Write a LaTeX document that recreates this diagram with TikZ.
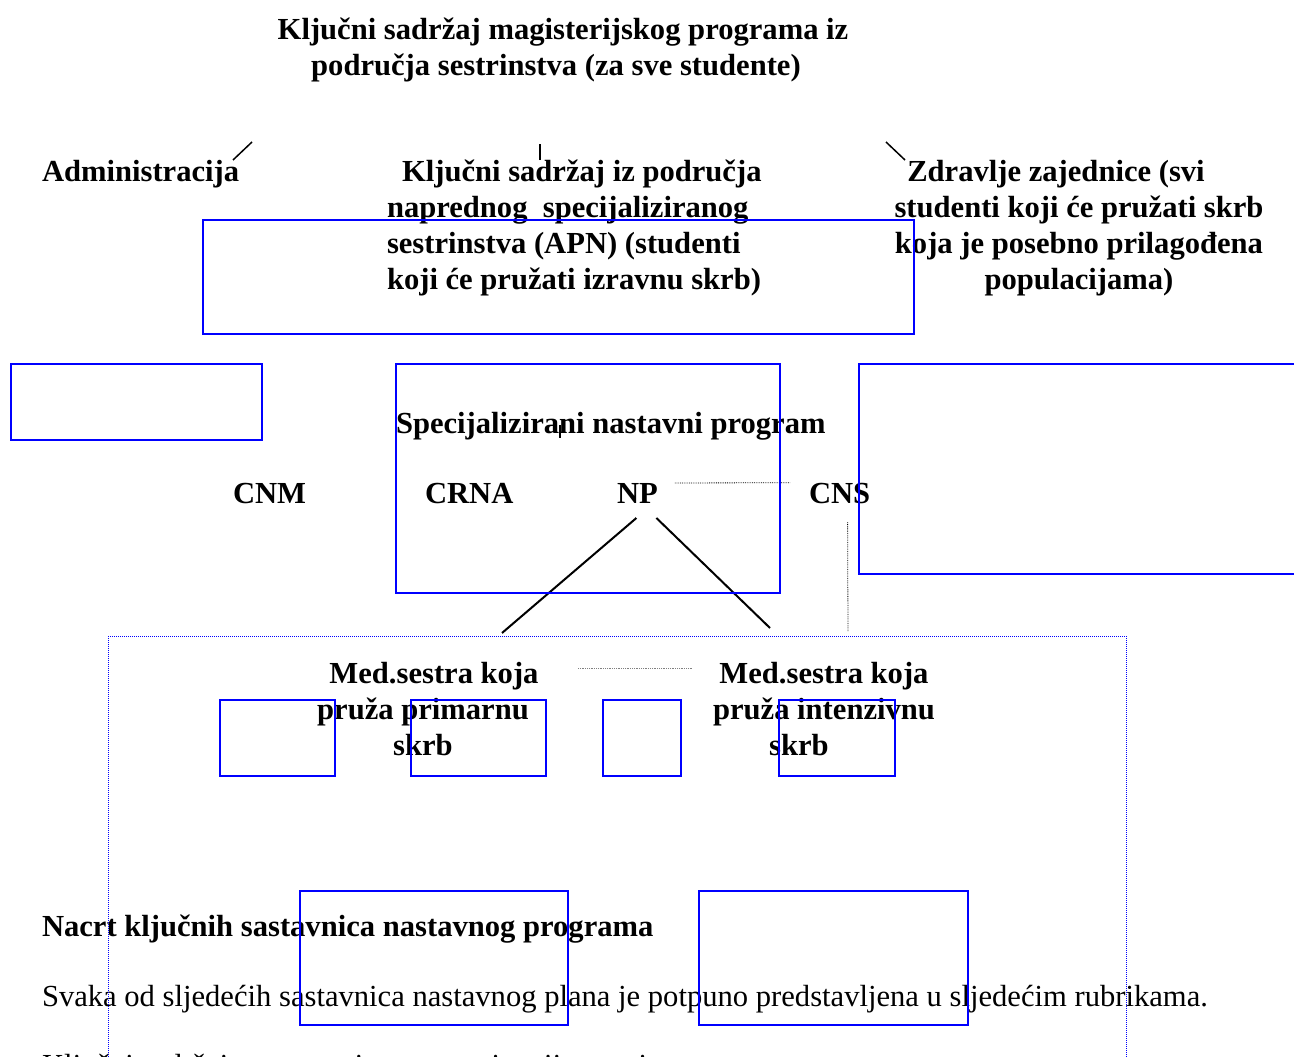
\documentclass[tikz,border=0pt]{standalone}
\usepackage{fontspec}
\setmainfont{Liberation Serif}
\usetikzlibrary{positioning}

\begin{document}
\begin{tikzpicture}[x=1pt,y=-1pt,
                    heading/.style={font=\fontsize{30.6}{36}\selectfont\bfseries,
                                    inner sep=0pt,outer sep=0pt
                                   },
                    bodytext/.style={font=\fontsize{30.6}{36}\selectfont,
                                     inner sep=0pt,outer sep=0pt
                                    },
                    bluebox/.style={draw=blue,line width=2.8pt},
                    framebox/.style={draw=blue,densely dotted,line width=1pt},
                    branch/.style={line width=2pt},
                    tick/.style={line width=1.5pt},
                    guide/.style={densely dotted,line width=0.8pt},
                    grayguide/.style={densely dotted,line width=0.8pt,draw=gray}
                   ]
\useasboundingbox (0,0) rectangle (1294,1057);
% headings
\node[heading,anchor=north,align=center] (title) at (563,18)
     {Ključni sadržaj magisterijskog programa iz\\područja sestrinstva (za sve studente)\hspace*{14pt}};
\node[heading,anchor=base west] (admin) at (42,181) {Administracija};
\node[heading,anchor=north west,align=left] (apn) at (387,160)
     {\hspace{15pt}Ključni sadržaj iz područja\\naprednog\ \ specijaliziranog\\sestrinstva (APN) (studenti\\koji će pružati izravnu skrb)};
\node[heading,anchor=north,align=center] (community) at (1079,160)
     {Zdravlje zajednice (svi\hspace*{46pt}\\studenti koji će pružati skrb\hspace*{22pt}\\koja je posebno prilagođena\\populacijama)};
\coordinate (admin-a) at (233,160);
\coordinate (admin-b) at (252,142);
\coordinate (apn-a) at (540,160);
\coordinate (apn-b) at (540,144);
\coordinate (comm-a) at (905,160);
\coordinate (comm-b) at (886,142);
\draw[tick] (admin-a) -- (admin-b);
\draw[tick] (apn-a) -- (apn-b);
\draw[tick] (comm-a) -- (comm-b);
% specialised programme
\node[heading,anchor=base west] (special) at (396,433) {Specijalizirani nastavni program};
\coordinate (special-a) at (560,425);
\coordinate (special-b) at (560,438);
\draw[tick] (special-a) -- (special-b);
\node[heading,anchor=base west] (cnm) at (233,503) {CNM};
\node[heading,anchor=base west] (crna) at (425,503) {CRNA};
\node[heading,anchor=base west] (np) at (617,503) {NP};
\node[heading,anchor=base west] (cns) at (809,503) {CNS};
\draw[guide] ([xshift=17pt]np.north east) -- ([xshift=-19pt]cns.north west);
\coordinate (cns-down) at (848,632);
\draw[guide] ([shift={(8,19)}]cns.south) -- (cns-down);
% nurse roles
\node[heading,anchor=north,align=center] (primary) at (423,662)
     {\hspace*{22pt}Med.sestra koja\\pruža primarnu\\skrb};
\node[heading,anchor=north,align=center] (intensive) at (824,662)
     {Med.sestra koja\\pruža intenzivnu\\skrb\hspace*{50pt}};
\coordinate (primary-top) at (502,633);
\coordinate (intensive-top) at (770,628);
\draw[branch] ([shift={(-1,15)}]np.south) -- (primary-top);
\draw[branch] ([shift={(19,15)}]np.south) -- (intensive-top);
\coordinate (roles-a) at (578,668);
\coordinate (roles-b) at (693,668);
\draw[grayguide] (roles-a) -- (roles-b);
% lower text
\node[heading,anchor=base west] (outline) at (42,936) {Nacrt ključnih sastavnica nastavnog programa};
\node[bodytext,anchor=base west] (every) at (42,1006)
     {Svaka od sljedećih sastavnica nastavnog plana je potpuno predstavljena u sljedećim rubrikama.};
\node[bodytext,anchor=base west] (cutline) at (42,1075)
     {Ključni sadržaj za sve smjerove magisterija sestrinstva};
% boxes
\draw[bluebox] (203,220) rectangle (914,334);
\draw[bluebox] (11,364) rectangle (262,440);
\draw[bluebox] (396,364) rectangle (780,593);
\draw[bluebox] (859,364) rectangle (1310,574);
\draw[bluebox] (220,700) rectangle (335,776);
\draw[bluebox] (411,700) rectangle (546,776);
\draw[bluebox] (603,700) rectangle (681,776);
\draw[bluebox] (779,700) rectangle (895,776);
\draw[bluebox] (300,891) rectangle (568,1025);
\draw[bluebox] (699,891) rectangle (968,1025);
\draw[framebox] (108,636) -- (1126,636) -- (1126,1070);
\draw[framebox] (108,636) -- (108,1070);
\end{tikzpicture}
\end{document}
